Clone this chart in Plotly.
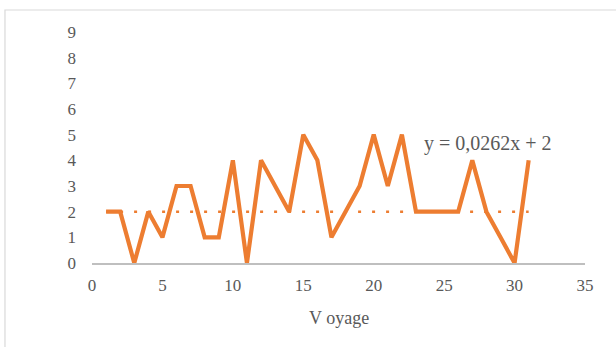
import plotly.graph_objects as go

# Trip number and count per trip
voyage = list(range(1, 32))
counts = [2, 2, 0, 2, 1, 3, 3, 1, 1, 4, 0, 4, 3, 2, 5, 4, 1, 2, 3, 5, 3, 5,
          2, 2, 2, 2, 4, 2, 1, 0, 4]

# Trend line drawn as a flat level across the trips
trend_level = 2
trend_label = "y = 0,0262x + 2"

x_ticks = [0, 5, 10, 15, 20, 25, 30, 35]
y_ticks = list(range(0, 10))

orange = "#ED7D31"
grey_text = "#595959"
font_family = "Liberation Serif, Times New Roman, serif"

fig = go.Figure()

fig.add_trace(go.Scatter(
    x=[voyage[0], voyage[-1]],
    y=[trend_level, trend_level],
    mode="lines",
    line=dict(color=orange, width=2.5, dash="3px,11px"),
    hoverinfo="skip",
    showlegend=False,
))

fig.add_trace(go.Scatter(
    x=voyage,
    y=counts,
    mode="lines",
    line=dict(color=orange, width=4.2),
    showlegend=False,
))

fig.add_annotation(
    x=23.4, y=4.65, xref="x", yref="y",
    text=trend_label, showarrow=False, xanchor="left", yanchor="middle",
    font=dict(family=font_family, size=20, color=grey_text),
)

fig.add_annotation(
    x=0.5, y=-0.238, xref="paper", yref="paper",
    text="V oyage", showarrow=False, xanchor="center", yanchor="middle",
    font=dict(family=font_family, size=18, color=grey_text),
)

# Chart frame
fig.add_shape(
    type="rect", xref="paper", yref="paper",
    x0=-0.1765, y0=-0.5, x1=1.3, y1=1.0952,
    line=dict(color="#D9D9D9", width=1.2),
    fillcolor="rgba(0,0,0,0)", layer="below",
)

fig.update_xaxes(
    range=[0, 35], tickvals=x_ticks, showgrid=False, zeroline=False,
    showline=True, linecolor="#BFBFBF", linewidth=1.5,
    ticks="", ticklabelstandoff=6,
    tickfont=dict(family=font_family, size=17, color=grey_text),
)
fig.update_yaxes(
    range=[0, 9], tickvals=y_ticks, showgrid=False, zeroline=False,
    showline=False, ticks="", ticklabelstandoff=15,
    tickfont=dict(family=font_family, size=17, color=grey_text),
)

fig.update_layout(
    width=616, height=347,
    margin=dict(l=92, r=31, t=32, b=84),
    paper_bgcolor="white", plot_bgcolor="white",
)

fig.write_html("out.html")
